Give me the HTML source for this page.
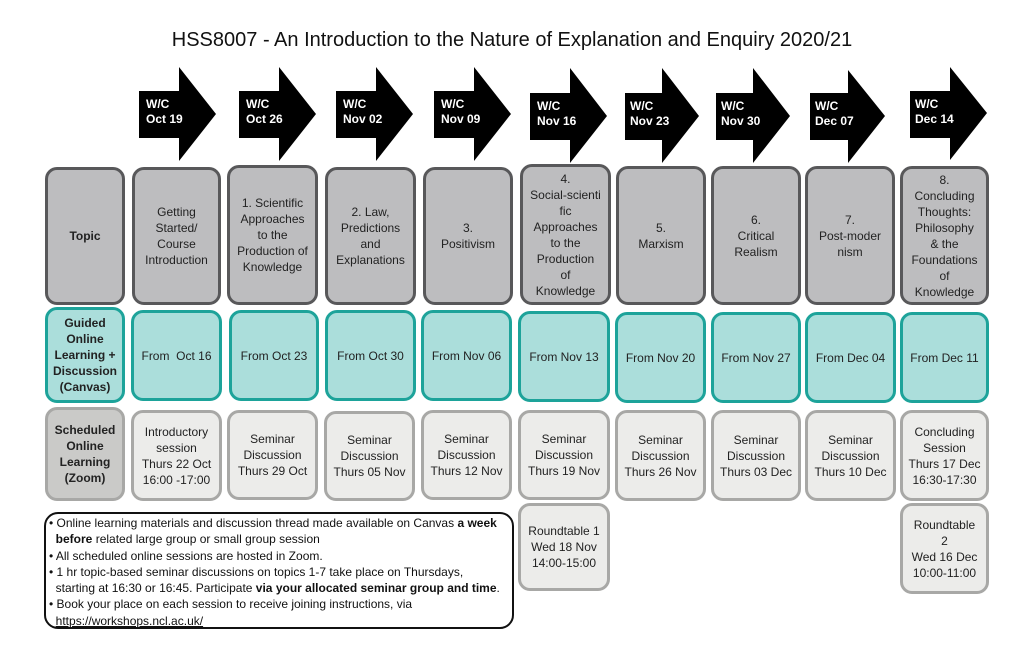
<!DOCTYPE html>
<html><head><meta charset="utf-8"><style>
body{margin:0;width:1024px;height:650px;background:#fff;position:relative;overflow:hidden;font-family:"Liberation Sans",sans-serif;}
.b{position:absolute;box-sizing:border-box;border-radius:12px;display:flex;align-items:center;justify-content:center;text-align:center;font-size:12px;line-height:16px;color:#222;}
.t{background:#bdbdbf;border:3px solid #58585a;}
.g{background:#abdedb;border:3px solid #1da39a;}
.s{background:#ececea;border:3px solid #a8a8a6;}
.a{position:absolute;color:#fff;font-weight:bold;font-size:12px;line-height:15px;}
h1{position:absolute;top:29px;left:0;width:1024px;text-align:center;font-weight:normal;font-size:20px;margin:0;color:#111;}
.note{position:absolute;left:44px;top:512px;width:470px;height:117px;box-sizing:border-box;border:2px solid #111;border-radius:14px;font-size:12px;line-height:16.3px;padding:1px 3px;color:#111;white-space:nowrap;}
</style></head><body>
<h1>HSS8007 - An Introduction to the Nature of Explanation and Enquiry 2020/21</h1>
<svg width="1024" height="170" style="position:absolute;left:0;top:0">
<g fill="#000">
<polygon points="139,91 179,91 179,67 216,114 179,161 179,138 139,138"/>
<polygon points="239,91 279,91 279,67 316,114 279,161 279,138 239,138"/>
<polygon points="336,91 376,91 376,67 413,114 376,161 376,138 336,138"/>
<polygon points="434,91 474,91 474,67 511,114 474,161 474,138 434,138"/>
<polygon points="530,93 570,93 570,68 607,116 570,163 570,140 530,140"/>
<polygon points="625,93 662,93 662,68 699,116 662,163 662,140 625,140"/>
<polygon points="716,93 753,93 753,68 790,116 753,163 753,140 716,140"/>
<polygon points="810,93 848,93 848,70 885,116 848,163 848,140 810,140"/>
<polygon points="910,91 950,91 950,67 987,113 950,160 950,138 910,138"/>
</g></svg>
<div class="a" style="left:146px;top:97px">W/C<br>Oct 19</div>
<div class="a" style="left:246px;top:97px">W/C<br>Oct 26</div>
<div class="a" style="left:343px;top:97px">W/C<br>Nov 02</div>
<div class="a" style="left:441px;top:97px">W/C<br>Nov 09</div>
<div class="a" style="left:537px;top:99px">W/C<br>Nov 16</div>
<div class="a" style="left:630px;top:99px">W/C<br>Nov 23</div>
<div class="a" style="left:721px;top:99px">W/C<br>Nov 30</div>
<div class="a" style="left:815px;top:99px">W/C<br>Dec 07</div>
<div class="a" style="left:915px;top:97px">W/C<br>Dec 14</div>

<div class="b t" style="left:45px;top:167px;width:80px;height:138px;font-weight:bold">Topic</div>
<div class="b t" style="left:132px;top:167px;width:89px;height:138px">Getting<br>Started/<br>Course<br>Introduction</div>
<div class="b t" style="left:227px;top:165px;width:91px;height:140px">1. Scientific<br>Approaches<br>to the<br>Production of<br>Knowledge</div>
<div class="b t" style="left:325px;top:167px;width:91px;height:138px">2. Law,<br>Predictions<br>and<br>Explanations</div>
<div class="b t" style="left:423px;top:167px;width:90px;height:138px">3.<br>Positivism</div>
<div class="b t" style="left:520px;top:164px;width:91px;height:141px">4.<br>Social-scienti<br>fic<br>Approaches<br>to the<br>Production<br>of<br>Knowledge</div>
<div class="b t" style="left:616px;top:166px;width:90px;height:139px">5.<br>Marxism</div>
<div class="b t" style="left:711px;top:166px;width:90px;height:139px">6.<br>Critical<br>Realism</div>
<div class="b t" style="left:805px;top:166px;width:90px;height:139px">7.<br>Post-moder<br>nism</div>
<div class="b t" style="left:900px;top:166px;width:89px;height:139px">8.<br>Concluding<br>Thoughts:<br>Philosophy<br>&amp; the<br>Foundations<br>of<br>Knowledge</div>

<div class="b g" style="left:45px;top:307px;width:80px;height:96px;font-weight:bold">Guided<br>Online<br>Learning +<br>Discussion<br>(Canvas)</div>
<div class="b g" style="left:131px;top:310px;width:91px;height:91px">From&nbsp; Oct 16</div>
<div class="b g" style="left:229px;top:310px;width:90px;height:91px">From Oct 23</div>
<div class="b g" style="left:325px;top:310px;width:91px;height:91px">From Oct 30</div>
<div class="b g" style="left:421px;top:310px;width:91px;height:91px">From Nov 06</div>
<div class="b g" style="left:518px;top:311px;width:92px;height:91px">From Nov 13</div>
<div class="b g" style="left:615px;top:312px;width:91px;height:91px">From Nov 20</div>
<div class="b g" style="left:711px;top:312px;width:90px;height:91px">From Nov 27</div>
<div class="b g" style="left:805px;top:312px;width:91px;height:91px">From Dec 04</div>
<div class="b g" style="left:900px;top:312px;width:89px;height:91px">From Dec 11</div>

<div class="b s" style="left:45px;top:407px;width:80px;height:94px;background:#cacac8;font-weight:bold">Scheduled<br>Online<br>Learning<br>(Zoom)</div>
<div class="b s" style="left:131px;top:410px;width:91px;height:91px">Introductory<br>session<br>Thurs 22 Oct<br>16:00 -17:00</div>
<div class="b s" style="left:227px;top:410px;width:91px;height:90px">Seminar<br>Discussion<br>Thurs 29 Oct</div>
<div class="b s" style="left:324px;top:411px;width:91px;height:90px">Seminar<br>Discussion<br>Thurs 05 Nov</div>
<div class="b s" style="left:421px;top:410px;width:91px;height:90px">Seminar<br>Discussion<br>Thurs 12 Nov</div>
<div class="b s" style="left:518px;top:410px;width:92px;height:90px">Seminar<br>Discussion<br>Thurs 19 Nov</div>
<div class="b s" style="left:615px;top:410px;width:91px;height:91px">Seminar<br>Discussion<br>Thurs 26 Nov</div>
<div class="b s" style="left:711px;top:410px;width:90px;height:91px">Seminar<br>Discussion<br>Thurs 03 Dec</div>
<div class="b s" style="left:805px;top:410px;width:91px;height:91px">Seminar<br>Discussion<br>Thurs 10 Dec</div>
<div class="b s" style="left:900px;top:410px;width:89px;height:91px">Concluding<br>Session<br>Thurs 17 Dec<br>16:30-17:30</div>

<div class="b s" style="left:518px;top:503px;width:92px;height:88px">Roundtable 1<br>Wed 18 Nov<br>14:00-15:00</div>
<div class="b s" style="left:900px;top:503px;width:89px;height:91px">Roundtable<br>2<br>Wed 16 Dec<br>10:00-11:00</div>

<div class="note">• Online learning materials and discussion thread made available on Canvas <b>a week</b><br>&nbsp;&nbsp;<b>before</b> related large group or small group session<br>• All scheduled online sessions are hosted in Zoom.<br>• 1 hr topic-based seminar discussions on topics 1-7 take place on Thursdays,<br>&nbsp;&nbsp;starting at 16:30 or 16:45. Participate <b>via your allocated seminar group and time</b>.<br>• Book your place on each session to receive joining instructions, via<br>&nbsp;&nbsp;<u>https://workshops.ncl.ac.uk/</u></div>
</body></html>
